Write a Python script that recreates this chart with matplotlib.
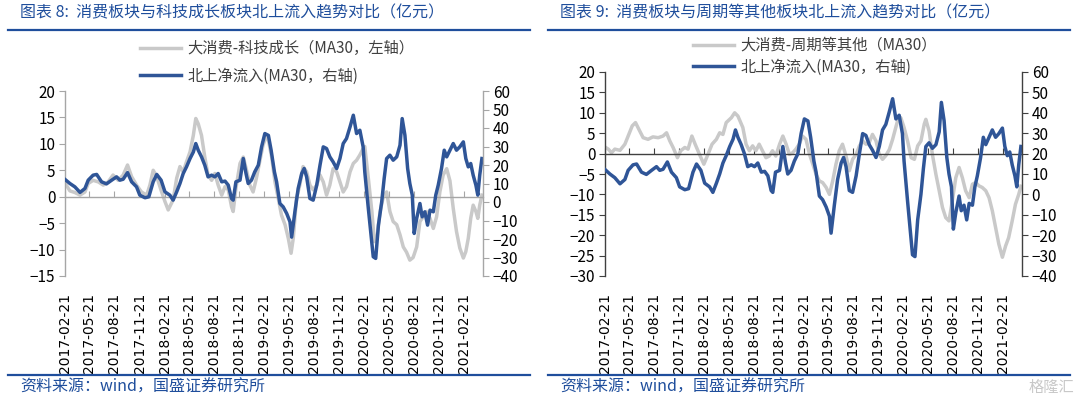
import numpy as np
import pandas as pd
import matplotlib
matplotlib.use('Agg')
import matplotlib.pyplot as plt
import matplotlib.dates as mdates
from matplotlib.lines import Line2D

plt.rcParams['font.family'] = ['Noto Sans CJK SC', 'DejaVu Sans']

BLUE = '#2f5597'
GREY = '#c9c9c9'
TEXT_BLUE = '#1f4e9c'

TICK_LABELS = ['2017-02-21', '2017-05-21', '2017-08-21', '2017-11-21',
               '2018-02-21', '2018-05-21', '2018-08-21', '2018-11-21',
               '2019-02-21', '2019-05-21', '2019-08-21', '2019-11-21',
               '2020-02-21', '2020-05-21', '2020-08-21', '2020-11-21',
               '2021-02-21']
X_START, X_END = '2017-02-21', '2021-05-02'

# 北上净流入 MA30 (right axis, same series on both charts)
flow_dates = [
    '2017-02-21', '2017-03-11', '2017-03-29', '2017-04-17', '2017-05-05', '2017-05-17', '2017-06-04',
    '2017-06-17', '2017-07-05', '2017-07-23', '2017-08-11', '2017-08-29', '2017-09-10', '2017-09-22',
    '2017-10-08', '2017-10-23', '2017-11-10', '2017-11-22', '2017-12-11', '2017-12-25',
    '2018-01-10', '2018-01-23', '2018-02-08', '2018-02-22', '2018-03-12', '2018-03-24', '2018-04-06',
    '2018-04-18', '2018-04-30', '2018-05-12', '2018-05-25', '2018-06-06', '2018-06-15', '2018-06-24',
    '2018-07-06', '2018-07-18', '2018-07-30', '2018-08-12', '2018-08-24', '2018-09-05', '2018-09-18',
    '2018-09-30', '2018-10-12', '2018-10-24', '2018-10-30', '2018-11-09', '2018-11-24', '2018-12-06',
    '2018-12-16', '2018-12-24',
    '2019-01-05', '2019-01-17', '2019-01-30', '2019-02-11', '2019-02-23', '2019-03-08', '2019-03-18',
    '2019-03-30', '2019-04-07', '2019-04-19', '2019-05-01', '2019-05-14', '2019-05-26', '2019-06-01',
    '2019-06-13', '2019-06-25', '2019-07-08', '2019-07-17', '2019-07-26', '2019-08-07', '2019-08-19',
    '2019-09-01', '2019-09-13', '2019-09-25', '2019-10-07', '2019-10-19', '2019-10-31', '2019-11-13',
    '2019-11-25', '2019-12-07', '2019-12-19',
    '2020-01-01', '2020-01-13', '2020-01-25', '2020-02-06', '2020-02-18', '2020-02-24', '2020-03-08',
    '2020-03-18', '2020-03-26', '2020-04-04', '2020-04-14', '2020-04-26', '2020-05-05', '2020-05-14',
    '2020-05-26', '2020-06-07', '2020-06-20', '2020-07-02', '2020-07-10', '2020-07-20', '2020-07-30',
    '2020-08-07', '2020-08-16', '2020-08-23', '2020-09-01', '2020-09-13', '2020-09-21', '2020-10-01',
    '2020-10-11', '2020-10-20', '2020-11-01', '2020-11-10', '2020-11-19', '2020-12-01', '2020-12-11',
    '2020-12-20',
    '2021-01-01', '2021-01-13', '2021-01-25', '2021-02-06', '2021-02-19', '2021-02-28', '2021-03-09',
    '2021-03-18', '2021-03-27', '2021-04-06', '2021-04-13', '2021-04-20', '2021-04-28']
flow_vals = [
    12.2, 10, 8.2, 5.2, 7.3, 11.8, 14.5, 14.9, 10.9, 9.8, 11.8, 13.6, 11.8, 12.3, 15.9, 10.9, 8.2, 3.7, 2.3, 2.8,
    10.9, 14.9, 11.8, 5.5, 3.7, 1.0, 5.5, 10, 15.4, 19, 23.5, 27, 31.6, 28, 24.4, 19.9, 13.6, 14.5, 13.6, 15.4,
    10.9, 11.3, 9.1, 1.9, 1.0, 10.9, 11.8, 23.5, 15.4, 10,
    11.8, 16.3, 19.9, 29.8, 37, 36, 28, 16.3, 10.9, -0.8, -2.6, -6.2, -10.7, -19, -5.3, 7.3, 15.4, 18.1,
    13.6, 1.9, 1.0, 9.1, 19.9, 29.8, 28.9, 24.4, 21.7, 18.1, 23.5, 31.6, 34.3,
    40.6, 46.9, 37, 38.8, 29.8, 16.3, -3.5, -17.9, -29.6, -30.5, -12.5, 0.1, 12.7, 23.5, 25.3, 22.6, 24.4,
    30.7, 45.1, 36.1, 18.1, 10, 3.7, -17, -8.9, -0.8, -8, -5.3, -12.5, -4.4, -5.3, 3.7, 9.1, 18.1, 28, 24.4,
    28, 31.6, 28, 29.8, 32.5, 23.5, 19, 20.8, 14.5, 9.1, 3.7, 14.5, 23.5]

# 大消费-科技成长 MA30 (left axis, chart 8)
tech_dates = [
    '2017-02-21', '2017-03-11', '2017-03-29', '2017-04-17', '2017-05-05', '2017-05-17', '2017-06-04',
    '2017-06-23', '2017-07-11', '2017-07-29', '2017-08-16', '2017-09-04', '2017-09-22', '2017-10-08',
    '2017-10-23', '2017-11-10', '2017-11-28', '2017-12-17', '2017-12-29',
    '2018-01-10', '2018-01-23', '2018-02-08', '2018-02-22', '2018-03-06', '2018-03-24', '2018-04-06',
    '2018-04-18', '2018-04-30', '2018-05-12', '2018-05-25', '2018-06-06', '2018-06-15', '2018-06-24',
    '2018-07-06', '2018-07-18', '2018-07-30', '2018-08-12', '2018-08-24', '2018-09-05', '2018-09-18',
    '2018-09-30', '2018-10-12', '2018-10-24', '2018-10-30', '2018-11-09', '2018-11-24', '2018-12-06',
    '2018-12-18', '2018-12-30',
    '2019-01-11', '2019-01-23', '2019-02-04', '2019-02-16', '2019-03-01', '2019-03-08', '2019-03-20',
    '2019-04-01', '2019-04-13', '2019-04-25', '2019-05-08', '2019-05-20', '2019-05-30', '2019-06-07',
    '2019-06-19', '2019-07-01', '2019-07-13', '2019-07-26', '2019-08-07', '2019-08-19', '2019-09-01',
    '2019-09-13', '2019-09-25', '2019-10-07', '2019-10-19', '2019-10-31', '2019-11-13', '2019-11-25',
    '2019-12-07', '2019-12-19',
    '2020-01-01', '2020-01-13', '2020-01-25', '2020-02-06', '2020-02-18', '2020-02-24', '2020-03-08',
    '2020-03-21', '2020-03-30', '2020-04-08', '2020-04-20', '2020-05-02', '2020-05-14', '2020-05-26',
    '2020-06-07', '2020-06-20', '2020-07-02', '2020-07-14', '2020-07-26', '2020-08-07', '2020-08-19',
    '2020-09-01', '2020-09-13', '2020-09-25', '2020-10-07', '2020-10-20', '2020-11-01', '2020-11-13',
    '2020-11-25', '2020-12-07', '2020-12-20',
    '2021-01-01', '2021-01-13', '2021-01-25', '2021-02-06', '2021-02-19', '2021-02-28', '2021-03-09',
    '2021-03-18', '2021-03-27', '2021-04-06', '2021-04-13', '2021-04-20', '2021-04-28']
tech_vals = [
    2.6, 1.1, 0.8, 0.3, 0.9, 2.5, 3.1, 2.8, 2.2, 2.8, 4.1, 3.1, 4.1, 6.0, 3.8, 2.2, 0.9, 0.3, 2.2,
    5.0, 3.8, 1.2, -0.9, -2.5, -0.6, 3.5, 5.7, 4.7, 6.6, 8.5, 11.6, 14.8, 13.8, 11.6, 7.5, 4.1, 3.1, 4.4,
    2.2, 0.3, 1.9, 1.3, -1.9, -2.8, 1.6, 6.3, 7.5, 5.0, 2.2,
    0.9, 3.5, 6.6, 9.7, 11.6, 10.7, 7.5, 2.8, -0.3, -3.5, -5.3, -7.9, -10.7, -7.9, -0.3, 2.2, 5.7, 4.7,
    2.2, 1.3, 2.2, 4.1, 2.8, 0.3, 2.2, 5.3, 4.7, 2.8, 0.9, 1.9,
    4.7, 6.3, 6.9, 7.9, 9.1, 9.5, 3.5, -2.8, -8.5, -8.0, -2.8, 0.0, 0.9, -2.8, -4.7, -5.3, -7.2, -9.5,
    -10.5, -12.0, -11.5, -9.5, -4.7, -3.8, -2.8, -4.1, -6.0, -3.8, 0.9, 4.1, 5.3,
    3.0, -2.2, -6.6, -9.7, -11.6, -10.4, -7.9, -4.1, -1.6, -2.8, -4.1, -1.6, 0.3]

# 大消费-周期等其他 MA30 (left axis, chart 9)
cyc_dates = [
    '2017-02-21', '2017-03-05', '2017-03-17', '2017-03-29', '2017-04-17', '2017-05-05', '2017-05-17',
    '2017-06-01', '2017-06-13', '2017-06-25', '2017-07-11', '2017-07-29', '2017-08-16', '2017-09-04',
    '2017-09-22', '2017-10-05', '2017-10-17', '2017-10-29', '2017-11-14', '2017-11-26', '2017-12-11',
    '2017-12-23',
    '2018-01-06', '2018-01-18', '2018-02-03', '2018-02-19', '2018-03-06', '2018-03-21', '2018-04-06',
    '2018-04-18', '2018-04-30', '2018-05-12', '2018-05-31', '2018-06-12', '2018-06-24', '2018-07-12',
    '2018-07-24', '2018-08-05', '2018-08-17', '2018-08-29', '2018-09-10', '2018-09-22', '2018-10-05',
    '2018-10-17', '2018-10-29', '2018-11-10', '2018-11-24', '2018-12-06', '2018-12-18', '2018-12-30',
    '2019-01-11', '2019-01-23', '2019-02-04', '2019-02-16', '2019-03-01', '2019-03-14', '2019-03-26',
    '2019-04-07', '2019-04-19', '2019-05-01', '2019-05-14', '2019-05-26', '2019-06-07', '2019-06-19',
    '2019-07-01', '2019-07-13', '2019-07-26', '2019-08-07', '2019-08-19', '2019-09-01', '2019-09-13',
    '2019-09-25', '2019-10-07', '2019-10-19', '2019-10-31', '2019-11-13', '2019-11-25', '2019-12-07',
    '2019-12-19',
    '2020-01-01', '2020-01-13', '2020-01-25', '2020-01-31', '2020-02-12', '2020-02-24', '2020-03-08',
    '2020-03-21', '2020-04-02', '2020-04-14', '2020-04-26', '2020-05-08', '2020-05-14', '2020-05-26',
    '2020-06-07', '2020-06-20', '2020-07-02', '2020-07-14', '2020-07-26', '2020-08-07', '2020-08-19',
    '2020-09-01', '2020-09-13', '2020-09-25', '2020-10-07', '2020-10-20', '2020-11-01', '2020-11-13',
    '2020-11-25', '2020-12-07', '2020-12-20',
    '2021-01-01', '2021-01-13', '2021-01-25', '2021-02-06', '2021-02-19', '2021-03-03', '2021-03-14',
    '2021-03-27', '2021-04-08', '2021-04-20', '2021-04-28']
cyc_vals = [
    1.6, 1.1, 0.2, 1.1, 0.8, 2.3, 4.3, 6.8, 7.6, 6.0, 3.9, 3.5, 4.1, 3.9, 4.3, 5.1, 3.1, 1.5, -1.0, 0.7,
    1.5, 1.1,
    4.3, 2.3, -0.2, -2.6, -0.2, 2.3, 3.5, 5.1, 4.7, 7.6, 8.8, 10.0, 9.2, 6.4, 2.3, 0.7, 1.9, 0.7, 2.3,
    0.7, -1.0, -0.6, 0.7, -0.6, 2.3, 4.3, 2.3, -0.2,
    0.2, 1.1, 2.3, 4.3, 3.5, -0.2, -2.6, -5.1, -6.7, -7.1, -8.3, -10.0, -6.7, -2.6, 0.7, 2.3, -0.6, -4.2,
    -1.4, -0.2, 1.9, 3.1, 2.3, 2.7, 4.7, 3.1, -0.2, -1.4, -0.5,
    1.0, 3.5, 6.5, 8.0, 8.8, 6.4, 3.1, -1.0, -1.4, 1.9, 3.1, 7.2, 8.4, 5.5, -0.2, -5.1, -9.1, -13.2,
    -15.7, -16.5, -11.6, -5.9, -3.4, -5.9, -9.1, -10.8, -7.5, -7.1, -7.9, -8.3, -9.1,
    -10.8, -14.0, -18.1, -22.2, -25.4, -22.6, -20.6, -16.5, -12.4, -10.0, -8.0]

W, H = 1080, 398
fig = plt.figure(figsize=(W / 100, H / 100), dpi=100)


def px_rect(x0, y0, x1, y1):
    return [x0 / W, 1 - y1 / H, (x1 - x0) / W, (y1 - y0) / H]


def hline(x0, x1, y):
    fig.add_artist(Line2D([x0 / W, x1 / W], [1 - y / H, 1 - y / H], transform=fig.transFigure,
                          color=TEXT_BLUE, lw=1.6))


def draw_panel(rect, g_dates, g_vals, g_label, ylim, yticks, axis_color, title, xoff, leg_xy, leg_space):
    ax = fig.add_axes(px_rect(*rect))
    ax2 = ax.twinx()
    l1, = ax.plot(pd.to_datetime(g_dates), g_vals, color=GREY, lw=2.5, solid_joinstyle='round')
    l2, = ax2.plot(pd.to_datetime(flow_dates), flow_vals, color=BLUE, lw=2.5, solid_joinstyle='round')

    ax.set_xlim(pd.Timestamp(X_START), pd.Timestamp(X_END))
    ax.set_ylim(*ylim)
    ax.set_yticks(yticks)
    ax2.set_ylim(-40, 60)
    ax2.set_yticks(np.arange(-40, 61, 10))

    for s in ['top', 'right']:
        ax.spines[s].set_visible(False)
    for s in ['top', 'left', 'bottom']:
        ax2.spines[s].set_visible(False)
    ax.spines['bottom'].set_position(('data', 0))
    for sp in [ax.spines['bottom'], ax.spines['left'], ax2.spines['right']]:
        sp.set_color(axis_color)
        sp.set_linewidth(1.0)

    tick_pos = mdates.date2num(pd.to_datetime(TICK_LABELS))
    ax.set_xticks(tick_pos)
    ax.tick_params(axis='x', direction='in', length=4, color=axis_color, labelbottom=False)
    ax.tick_params(axis='y', direction='out', length=4, color=axis_color, labelsize=11, pad=3)
    ax2.tick_params(axis='y', direction='out', length=4, color=axis_color, labelsize=11, pad=3)

    sec = ax.secondary_xaxis('bottom')
    sec.set_xticks(tick_pos, labels=TICK_LABELS, rotation=90, fontsize=10, family='DejaVu Sans')
    sec.tick_params(length=0, pad=12)
    sec.spines['bottom'].set_visible(False)

    fig.legend([l1, l2], [g_label, '北上净流入(MA30，右轴)'], loc='upper left',
               bbox_to_anchor=(leg_xy[0] / W, 1 - leg_xy[1] / H), frameon=False, fontsize=11,
               handlelength=2.7, handletextpad=0.4, labelspacing=leg_space, borderpad=0,
               borderaxespad=0, labelcolor='#404040')

    fig.text((xoff + 20) / W, 1 - 13 / H, title, color=TEXT_BLUE, fontsize=11.5, va='center')
    hline(xoff + 8, xoff + 530, 30)
    hline(xoff + 8, xoff + 530, 375)
    fig.text((xoff + 20) / W, 1 - 387 / H, '资料来源：wind，国盛证券研究所', color=TEXT_BLUE,
             fontsize=11.5, va='center')


draw_panel((65, 91, 483, 276), tech_dates, tech_vals, '大消费-科技成长（MA30，左轴）',
           (-15, 20), np.arange(-15, 21, 5), '#a6a6a6',
           '图表 8:  消费板块与科技成长板块北上流入趋势对比（亿元）', 0, (140, 40), 0.7)
draw_panel((605, 72, 1022, 276), cyc_dates, cyc_vals, '大消费-周期等其他（MA30）',
           (-30, 20), np.arange(-30, 21, 5), '#404040',
           '图表 9:  消费板块与周期等其他板块北上流入趋势对比（亿元）', 540, (693, 37), 0.3)

fig.text(1074 / W, 1 - 387 / H, '格隆汇', color='#c8c8c8', fontsize=11, ha='right', va='center')

fig.savefig('out.png', dpi=100)
